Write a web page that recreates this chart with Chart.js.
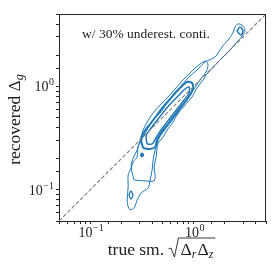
<!DOCTYPE html>
<html>
<head>
<meta charset="utf-8">
<script src="https://cdn.jsdelivr.net/npm/chart.js@4.4.0/dist/chart.umd.min.js"></script>
<style>
  html, body { margin: 0; padding: 0; background: #fff; }
  #wrap { width: 274px; height: 274px; }
</style>
</head>
<body>
<div id="wrap"><canvas id="chart" width="274" height="274"></canvas></div>
<script>
// axis range (both axes log, same limits)
const axisMin = 0.05;
const axisMax = 5;
const majorTicks = [0.1, 1];
const majorTickExps = ['\u22121', '0'];
const noteText = 'w/ 30% underest. conti.';

// y = x reference line
const diagonal = [[0.05, 0.05], [5, 5]];

// contour levels, [true, recovered]
const contourOuter = [
  [0.2435, 0.0639], [0.2661, 0.0668], [0.2844, 0.0798], [0.3109, 0.0932], [0.3632, 0.1042],
  [0.3797, 0.1245], [0.3969, 0.1555], [0.4058, 0.1942], [0.4242, 0.2427], [0.4535, 0.2835],
  [0.5068, 0.3240], [0.5539, 0.3786], [0.6327, 0.4523], [0.6915, 0.5286], [0.8078, 0.6459],
  [0.9650, 0.7891], [1.078, 0.9638], [1.232, 1.152], [1.33, 1.30], [1.52, 1.50],
  [1.78, 1.78], [1.920, 1.920], [2.244, 2.245], [2.621, 2.682], [2.994, 3.134],
  [3.130, 3.503], [2.928, 3.915], [2.679, 4.003], [2.507, 3.745], [2.398, 3.277],
  [2.146, 2.804], [1.878, 2.400], [1.608, 1.920], [1.288, 1.719], [1.078, 1.439],
  [0.8830, 1.204], [0.7390, 0.9856], [0.6327, 0.8248], [0.5539, 0.6904], [0.4741, 0.5526],
  [0.4058, 0.4729], [0.3632, 0.3959], [0.3250, 0.3240], [0.2908, 0.2594], [0.2844, 0.2077],
  [0.2602, 0.1858], [0.2490, 0.1626], [0.2330, 0.1391], [0.2330, 0.1066], [0.2278, 0.0798],
  [0.2330, 0.0683], [0.2435, 0.0639]
];
const contourSecond = [
  [0.2661, 0.1245], [0.3474, 0.1218], [0.4150, 0.1218], [0.4242, 0.1391], [0.4150, 0.1662],
  [0.4338, 0.2077], [0.4435, 0.2594], [0.4535, 0.3031], [0.5068, 0.3621], [0.5920, 0.4424],
  [0.7069, 0.5650], [0.8258, 0.7060], [0.9650, 0.8820], [1.152, 1.152], [1.316, 1.376],
  [1.376, 1.608], [1.316, 1.757], [1.152, 1.644], [0.9650, 1.407], [0.7727, 1.126],
  [0.6614, 0.9428], [0.5662, 0.7891], [0.4741, 0.6604], [0.4058, 0.5526], [0.3552, 0.4523],
  [0.3250, 0.3786], [0.3041, 0.3031], [0.2844, 0.2427], [0.2602, 0.2031], [0.2490, 0.1738],
  [0.2545, 0.1455], [0.2661, 0.1245]
];
const contourThird = [
  [0.3250, 0.2537], [0.3109, 0.3031], [0.3323, 0.3621], [0.3797, 0.4327], [0.4435, 0.5286],
  [0.5068, 0.6316], [0.5920, 0.7545], [0.6762, 0.8820], [0.7727, 1.008], [0.8634, 1.102],
  [0.9650, 1.077], [0.9865, 0.9638], [0.9230, 0.8248], [0.8258, 0.7060], [0.7390, 0.6177],
  [0.6470, 0.5170], [0.5539, 0.4231], [0.4848, 0.3541], [0.4435, 0.3031], [0.4242, 0.2594],
  [0.3797, 0.2481], [0.3250, 0.2537]
];
const contourInner = [
  [0.3552, 0.2773], [0.3474, 0.3313], [0.3882, 0.3959], [0.4535, 0.4836], [0.5298, 0.5908],
  [0.6189, 0.7060], [0.7229, 0.8248], [0.8258, 0.9428], [0.9027, 0.9856], [0.9027, 0.8624],
  [0.8078, 0.7380], [0.6915, 0.6041], [0.5920, 0.4944], [0.5068, 0.4047], [0.4435, 0.3313],
  [0.3969, 0.2773], [0.3552, 0.2773]
];
const islandDot = [[0.3075, 0.2171], [0.3158, 0.2245], [0.3250, 0.2171], [0.3158, 0.2100], [0.3075, 0.2171]];
const islandLow = [[0.2366, 0.0892], [0.2473, 0.0975], [0.2585, 0.0892], [0.2473, 0.0816], [0.2366, 0.0892]];
const islandTop = [[2.621, 3.426], [2.801, 3.745], [2.994, 3.426], [2.863, 3.134], [2.621, 3.426]];

const blue = '#1f77b4';
const serif = '"Liberation Serif", "DejaVu Serif", serif';

function toPoints(arr) {
  return arr.map(([x, y]) => ({ x, y }));
}

function contourSet(arr, width) {
  return {
    data: toPoints(arr),
    showLine: true,
    borderColor: blue,
    borderWidth: width,
    pointRadius: 0,
    tension: 0.3,
    fill: false
  };
}

// draws "10" with a raised exponent; align: 'center' or 'right'
function drawPower(ctx, exp, x, yb, align) {
  ctx.font = '14px ' + serif;
  const wBase = ctx.measureText('10').width;
  ctx.font = '10px ' + serif;
  const wExp = ctx.measureText(exp).width;
  const total = wBase + wExp + 0.5;
  let x0 = align === 'center' ? x - total / 2 : x - total;
  ctx.textAlign = 'left';
  ctx.font = '14px ' + serif;
  ctx.fillText('10', x0, yb);
  ctx.font = '10px ' + serif;
  ctx.fillText(exp, x0 + wBase + 0.5, yb - 6);
}

// axis titles, tick labels, note, and the top/right frame
const decorPlugin = {
  id: 'decor',
  afterDraw(chart) {
    const ctx = chart.ctx;
    const a = chart.chartArea;
    const xs = chart.scales.x;
    const ys = chart.scales.y;
    ctx.save();

    ctx.strokeStyle = '#262626';
    ctx.lineWidth = 1;
    ctx.beginPath();
    ctx.moveTo(a.left, a.top + 0.5);
    ctx.lineTo(a.right - 0.5, a.top + 0.5);
    ctx.lineTo(a.right - 0.5, a.bottom);
    ctx.stroke();

    ctx.fillStyle = '#222';
    ctx.textBaseline = 'alphabetic';

    // major tick labels
    majorTicks.forEach((v, i) => {
      drawPower(ctx, majorTickExps[i], xs.getPixelForValue(v) + 1, 237, 'center');
      drawPower(ctx, majorTickExps[i], a.left - 5, ys.getPixelForValue(v) + 5, 'right');
    });

    // note inside the plot
    ctx.font = '13.5px ' + serif;
    ctx.textAlign = 'center';
    ctx.fillText(noteText, 146, 37.5);

    // x title: true sm. sqrt(Δ_r Δ_z)
    ctx.textAlign = 'left';
    const big = '17.5px ' + serif;
    const sub = 'italic 12px ' + serif;
    ctx.font = big;
    const wPre = ctx.measureText('true sm. ').width;
    const wD = ctx.measureText('\u0394').width;
    ctx.font = sub;
    const wr = ctx.measureText('r').width;
    const wz = ctx.measureText('z').width;
    const wRad = 12;
    const total = wPre + wRad + wD * 2 + wr + wz + 4;
    let x = 162 - total / 2;
    const yb = 255;
    ctx.font = big;
    ctx.fillText('true sm. ', x, yb);
    x += wPre;
    const radTop = yb - 17;
    ctx.beginPath();
    ctx.moveTo(x, yb - 6);
    ctx.lineTo(x + 2.5, yb - 7);
    ctx.lineTo(x + 6, yb + 2);
    ctx.lineTo(x + 10, radTop);
    x += wRad;
    ctx.font = big;
    ctx.fillText('\u0394', x, yb);
    x += wD;
    ctx.font = sub;
    ctx.fillText('r', x, yb + 3);
    x += wr + 1;
    ctx.font = big;
    ctx.fillText('\u0394', x, yb);
    x += wD;
    ctx.font = sub;
    ctx.fillText('z', x, yb + 3);
    x += wz + 2;
    ctx.lineTo(x, radTop);
    ctx.lineWidth = 0.9;
    ctx.strokeStyle = '#222';
    ctx.stroke();

    // y title: recovered Δ_g
    ctx.save();
    ctx.translate(20, (a.top + a.bottom) / 2 + 2);
    ctx.rotate(-Math.PI / 2);
    ctx.font = big;
    const wRec = ctx.measureText('recovered ').width;
    ctx.font = sub;
    const wg = ctx.measureText('g').width;
    let t = -(wRec + wD + wg) / 2;
    ctx.font = big;
    ctx.fillText('recovered ', t, 0);
    t += wRec;
    ctx.fillText('\u0394', t, 0);
    t += wD;
    ctx.font = sub;
    ctx.fillText('g', t, 3);
    ctx.restore();

    ctx.restore();
  }
};

function axisOptions(fitKey, fitValue) {
  return {
    type: 'logarithmic',
    min: axisMin,
    max: axisMax,
    afterFit(scale) { scale[fitKey] = fitValue; },
    border: { display: true, color: '#262626', width: 1 },
    grid: {
      drawOnChartArea: false,
      drawTicks: true,
      tickLength: 3,
      color: '#262626',
      tickColor: '#262626'
    },
    ticks: {
      autoSkip: false,
      maxRotation: 0,
      padding: 2,
      font: { family: serif, size: 13 },
      // labels are drawn by the decor plugin with real superscripts
      callback() { return ''; }
    }
  };
}

new Chart(document.getElementById('chart'), {
  type: 'scatter',
  data: {
    datasets: [
      {
        data: toPoints(diagonal),
        showLine: true,
        borderColor: '#7f7f7f',
        borderWidth: 1.1,
        borderDash: [4, 2],
        pointRadius: 0
      },
      contourSet(contourOuter, 1),
      contourSet(contourSecond, 1),
      contourSet(contourThird, 2),
      contourSet(contourInner, 1.5),
      contourSet(islandDot, 2),
      contourSet(islandLow, 1.3),
      contourSet(islandTop, 1.5)
    ]
  },
  options: {
    responsive: false,
    animation: false,
    devicePixelRatio: 1,
    layout: { padding: { top: 14, right: 8, left: 0, bottom: 0 } },
    plugins: {
      legend: { display: false },
      tooltip: { enabled: false }
    },
    scales: {
      x: axisOptions('height', 53),
      y: axisOptions('width', 59)
    }
  },
  plugins: [decorPlugin]
});
</script>
</body>
</html>
